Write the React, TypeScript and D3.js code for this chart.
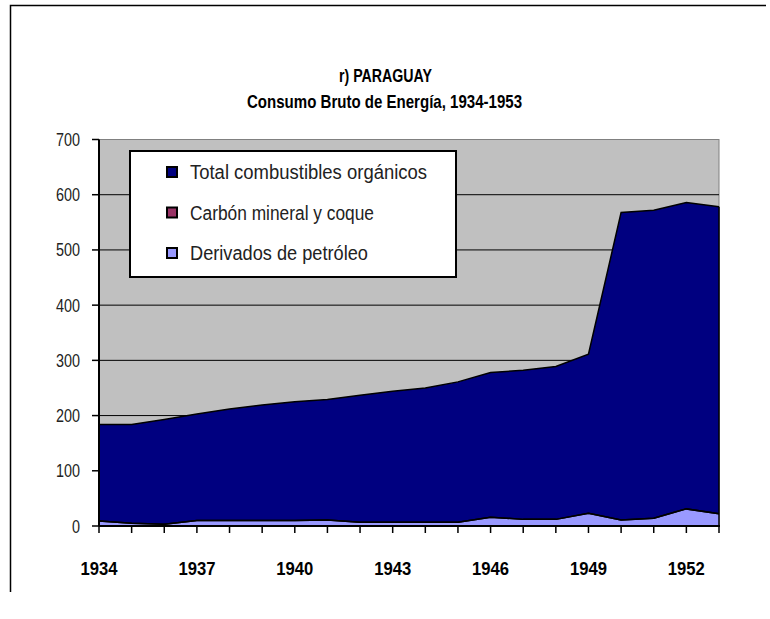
import React from "react";
import * as d3 from "d3";

const years = [1934,1935,1936,1937,1938,1939,1940,1941,1942,1943,1944,1945,1946,1947,1948,1949,1950,1951,1952,1953];
const petroleo = [9,5,3,10,10,10,10,11,7,7,7,7,16,12,12,23,11,14,31,22];
const carbon = [0,0,0,0,0,0,0,0,0,0,0,0,0,0,0,0,0,0,0,0];
const organicos = [175,179,190,193,202,209,215,218,230,237,243,254,262,270,277,288,557,558,555,556];
const yTicks = [0,100,200,300,400,500,600,700];
const xLabelYears = [1934,1937,1940,1943,1946,1949,1952];
const seriesNames = ["Derivados de petróleo","Carbón mineral y coque","Total combustibles orgánicos"];
const seriesColors = ["#9999FF","#993366","#000080"];
const legendOrder = [2,1,0];
const legendWidths = [178,184,237];

const W = 770, H = 619;
const L = 99, R = 719, T = 139.5, B = 526;
const FONT = "'Liberation Sans', Arial, sans-serif";

export default function App() {
  const x = d3.scaleLinear().domain([years[0], years[years.length-1]]).range([L, R]);
  const y = d3.scaleLinear().domain([0, 700]).range([B, T]);
  const rows = years.map((yr, i) => ({ year: yr, p: petroleo[i], c: carbon[i], o: organicos[i] }));
  const stack = d3.stack<any>().keys(["p","c","o"]);
  const layers = stack(rows);
  const area = d3.area<any>().x((d) => x(d.data.year)).y0((d) => y(d[0])).y1((d) => y(d[1]));
  const topLine = d3.line<any>().x((d) => x(d.data.year)).y((d) => y(d[1]));

  return (
    <svg width={W} height={H} style={{ position: "absolute", left: 0, top: 0, background: "#fff" }}>
      <path d={`M10.5,592 V5.5 H766`} fill="none" stroke="#000" strokeWidth={1.5} />
      <text x={385.5} y={82} textAnchor="middle" fontFamily={FONT} fontWeight="bold" fontSize={19} fill="#000" textLength={93} lengthAdjust="spacingAndGlyphs">r) PARAGUAY</text>
      <text x={384.5} y={108} textAnchor="middle" fontFamily={FONT} fontWeight="bold" fontSize={19} fill="#000" textLength={275} lengthAdjust="spacingAndGlyphs">Consumo Bruto de Energía, 1934-1953</text>
      <rect x={L} y={T} width={R - L} height={B - T} fill="#C0C0C0" stroke="#808080" strokeWidth={1} />
      {yTicks.filter((v) => v > 0 && v < 700).map((v) => (
        <line key={v} x1={L} x2={R} y1={y(v)} y2={y(v)} stroke="#000" strokeWidth={1} />
      ))}
      {layers.map((layer, i) => (
        <path key={i} d={area(layer) || ""} fill={seriesColors[i]} />
      ))}
      {layers.map((layer, i) => (
        <path key={"l" + i} d={topLine(layer) || ""} fill="none" stroke="#000" strokeWidth={1.5} />
      ))}
      <line x1={R} x2={R} y1={y(petroleo[19] + organicos[19])} y2={B} stroke="#000" strokeWidth={1.5} />
      <line x1={L} x2={L} y1={T} y2={B} stroke="#000" strokeWidth={2} />
      <line x1={L} x2={R + 1} y1={B} y2={B} stroke="#000" strokeWidth={2} />
      {yTicks.map((v) => (
        <g key={v}>
          <line x1={L - 7} x2={L} y1={y(v)} y2={y(v)} stroke="#000" strokeWidth={1.5} />
          <text x={80} y={y(v) + 6.5} textAnchor="end" fontFamily={FONT} fontSize={18} fill="#222" textLength={String(v).length * 8} lengthAdjust="spacingAndGlyphs">{v}</text>
        </g>
      ))}
      {years.map((yr) => (
        <line key={yr} x1={x(yr)} x2={x(yr)} y1={B} y2={B + 7} stroke="#000" strokeWidth={1.5} />
      ))}
      {xLabelYears.map((yr) => (
        <text key={yr} x={x(yr)} y={575} textAnchor="middle" fontFamily={FONT} fontWeight="bold" fontSize={18} fill="#000" textLength={37} lengthAdjust="spacingAndGlyphs">{yr}</text>
      ))}
      <rect x={130} y={151} width={326} height={126} fill="#fff" stroke="#000" strokeWidth={2} />
      {legendOrder.map((si, k) => (
        <g key={si}>
          <rect x={167} y={167 + k * 40.5} width={10} height={10} fill={seriesColors[si]} stroke="#000" strokeWidth={2} />
          <text x={190} y={179 + k * 40.5} fontFamily={FONT} fontSize={20} fill="#222" textLength={legendWidths[si]} lengthAdjust="spacingAndGlyphs">{seriesNames[si]}</text>
        </g>
      ))}
    </svg>
  );
}
